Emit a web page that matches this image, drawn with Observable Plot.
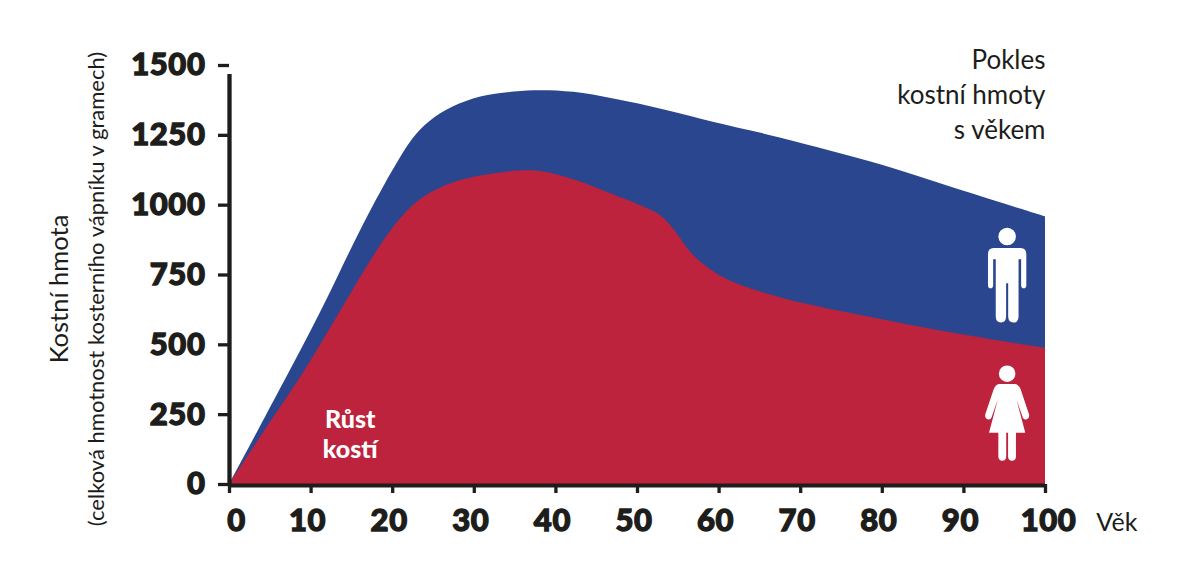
<!DOCTYPE html>
<html><head><meta charset="utf-8">
<script src="https://cdn.jsdelivr.net/npm/d3@7"></script>
<script src="https://cdn.jsdelivr.net/npm/@observablehq/plot@0.6"></script>
<style>html,body{margin:0;background:#fff}svg{display:block}
g[aria-label$="tick label"] text{stroke:#1d1d1b;stroke-width:1.3px;letter-spacing:.6px}
g[aria-label="growth"] text{stroke:#fff;stroke-width:.8px}
</style>
</head><body><div id="c"></div>
<script>
const maleAge = [0,4.4,9.3,12,16,20,22.5,24.5,27.4,30.8,34.9,38.2,42.2,47.1,53.3,59.4,67.6,80,90,100];
const maleMass = [0,240,510,665,905,1122,1238,1298,1351,1387,1405,1410,1404,1380,1341,1296,1240,1143,1050,958];
const femaleAge = [0,4.4,9.3,12.6,15.8,19.1,21.6,23.7,27.4,30.8,36.1,39,43,47.1,50.4,52.9,54.5,56.6,58.7,61.1,67.6,80,90,100];
const femaleMass = [0,195,410,570,728,880,972,1026,1079,1104,1123,1116,1083,1036,998,961,911,829,775,732,668,590,535,487];
const yTicks = [0,250,500,750,1000,1250,1500];
const xTicks = [0,10,20,30,40,50,60,70,80,90,100];
const noteLines = ["Pokles","kostní hmoty","s věkem"];
const growthLines = ["Růst","kostí"];
const maleIcon = [{age:95.3,mass:743}];
const femaleIcon = [{age:95.3,mass:252}];
const ink = "#1d1d1b";
const male = maleAge.map((a,i)=>({a,m:maleMass[i]}));
const female = femaleAge.map((a,i)=>({a,m:femaleMass[i]}));

function icon(paths){return {draw(c,size){const s=Math.sqrt(size)/97.5;paths(c,s);}};}
const man = icon((c,s)=>{
  c.moveTo(8.5*s,-39*s);c.arc(0,-39*s,8.5*s,0,2*Math.PI);
  c.moveTo(-13*s,-28*s);c.lineTo(13*s,-28*s);c.quadraticCurveTo(18.5*s,-28*s,18.5*s,-22*s);
  c.lineTo(18.5*s,8*s);c.quadraticCurveTo(18.5*s,11*s,16*s,11*s);c.quadraticCurveTo(13.5*s,11*s,13.5*s,8*s);
  c.lineTo(13.5*s,-17*s);c.lineTo(11*s,-17*s);c.lineTo(11*s,38*s);c.quadraticCurveTo(11*s,44*s,6*s,44*s);c.quadraticCurveTo(1*s,44*s,1*s,38*s);
  c.lineTo(1*s,6*s);c.lineTo(-1*s,6*s);c.lineTo(-1*s,38*s);c.quadraticCurveTo(-1*s,44*s,-6*s,44*s);c.quadraticCurveTo(-11*s,44*s,-11*s,38*s);
  c.lineTo(-11*s,-17*s);c.lineTo(-13.5*s,-17*s);c.lineTo(-13.5*s,8*s);c.quadraticCurveTo(-13.5*s,11*s,-16*s,11*s);c.quadraticCurveTo(-18.5*s,11*s,-18.5*s,8*s);
  c.lineTo(-18.5*s,-22*s);c.quadraticCurveTo(-18.5*s,-28*s,-13*s,-28*s);c.closePath();
});
const woman = icon((c,s)=>{
  c.moveTo(8*s,-39*s);c.arc(0,-39*s,8*s,0,2*Math.PI);
  c.moveTo(-7*s,-29*s);c.lineTo(7*s,-29*s);c.quadraticCurveTo(11*s,-29*s,13*s,-24*s);
  c.lineTo(21*s,0);c.quadraticCurveTo(22*s,4*s,19*s,5*s);c.quadraticCurveTo(16*s,6*s,15*s,3*s);
  c.lineTo(9*s,-14*s);c.lineTo(17.5*s,18*s);c.lineTo(8.5*s,18*s);c.lineTo(8.5*s,41*s);c.quadraticCurveTo(8.5*s,45*s,4.7*s,45*s);c.quadraticCurveTo(.9*s,45*s,.9*s,41*s);
  c.lineTo(.9*s,18*s);c.lineTo(-.9*s,18*s);c.lineTo(-.9*s,41*s);c.quadraticCurveTo(-.9*s,45*s,-4.7*s,45*s);c.quadraticCurveTo(-8.5*s,45*s,-8.5*s,41*s);
  c.lineTo(-8.5*s,18*s);c.lineTo(-17.5*s,18*s);c.lineTo(-9*s,-14*s);c.lineTo(-15*s,3*s);c.quadraticCurveTo(-16*s,6*s,-19*s,5*s);c.quadraticCurveTo(-22*s,4*s,-21*s,0);
  c.lineTo(-13*s,-24*s);c.quadraticCurveTo(-11*s,-29*s,-7*s,-29*s);c.closePath();
});

const font = "Lato, 'Noto Sans', sans-serif";
const big = {fontSize:31,fontWeight:900,fill:ink,label:null,tickSize:0,tickFormat:d=>String(d)};
const plot = Plot.plot({
  width:1181,height:577,marginLeft:229,marginRight:136,marginTop:65,marginBottom:93,
  style:{fontFamily:font,background:"#fff"},
  x:{type:"linear",domain:[0,100],axis:null},
  y:{type:"linear",domain:[0,1500],axis:null},
  marks:[
    Plot.areaY(male,{x:"a",y:"m",fill:"#29468f",curve:"catmull-rom"}),
    Plot.areaY(female,{x:"a",y:"m",fill:"#bd233c",curve:"catmull-rom"}),
    Plot.ruleX([0],{y1:0,y2:1500,stroke:ink,strokeWidth:4.3,insetBottom:-9}),
    Plot.ruleY([0],{x1:0,x2:100,stroke:ink,strokeWidth:4,dy:1}),
    Plot.axisY({ticks:yTicks,tickSize:11,tickFormat:()=>"",stroke:ink,strokeWidth:3.3,label:null}),
    Plot.axisX({ticks:xTicks,tickSize:9,tickFormat:()=>"",stroke:ink,strokeWidth:3.3,label:null}),
    Plot.axisY({...big,ticks:yTicks,tickPadding:24,marginLeft:0}),
    Plot.axisX({...big,ticks:[0],tickPadding:24,dx:7}),
    Plot.axisX({...big,ticks:xTicks.slice(1,10),tickPadding:24,dx:-3.5}),
    Plot.axisX({...big,ticks:[100],tickPadding:24,dx:3}),
    Plot.text(["Věk"],{frameAnchor:"bottom-right",dx:92,dy:46,fontSize:25,fill:ink,text:d=>d}),
    Plot.text([noteLines.join("\n")],{frameAnchor:"top-right",text:d=>d,lineHeight:35/26,fontSize:26,fill:ink,dy:-21.5}),
    Plot.dot(maleIcon,{x:"age",y:"mass",symbol:man,r:57,fill:"#fff",stroke:null}),
    Plot.dot(femaleIcon,{x:"age",y:"mass",symbol:woman,r:57,fill:"#fff",stroke:null}),
    Plot.text([growthLines.join("\n")],{x:14.8,y:182,text:d=>d,lineHeight:30/25,fontSize:25,fontWeight:900,fill:"#fff",ariaLabel:"growth"}),
    Plot.text(["Kostní hmota"],{frameAnchor:"left",textAnchor:"middle",rotate:-90,dx:-170,dy:14,fontSize:25.5,fill:ink,text:d=>d}),
    Plot.text(["(celková hmotnost kosterního vápníku v gramech)"],{frameAnchor:"left",textAnchor:"middle",rotate:-90,dx:-133,dy:14,fontSize:22,fill:ink,text:d=>d})
  ]
});
document.getElementById("c").append(plot);
</script></body></html>
